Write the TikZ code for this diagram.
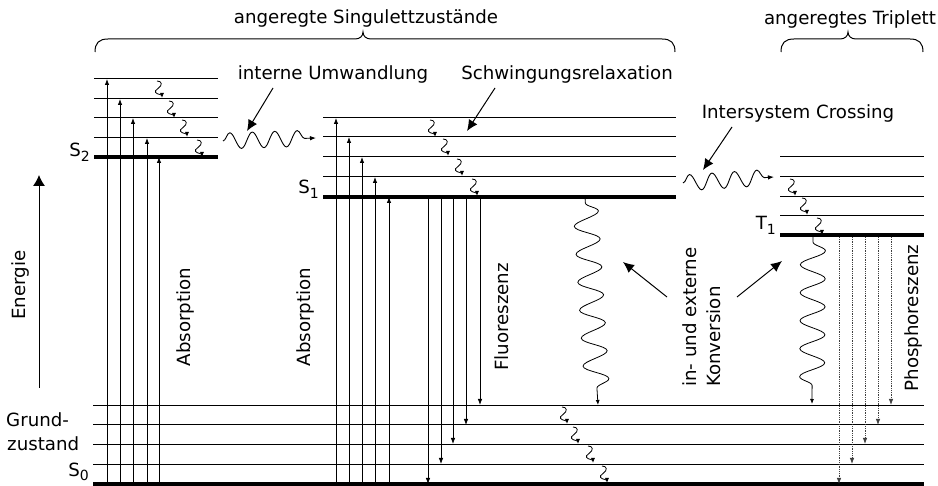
\documentclass[tikz,border=0pt]{standalone}
\usepackage{fontspec}
\setmainfont{DejaVu Sans}
\usetikzlibrary{arrows.meta,decorations.pathmorphing}
\newcommand{\lvsub}[2]{#1\raisebox{-0.5ex}{\fontsize{14}{14}\selectfont #2}}
\begin{document}
\begin{tikzpicture}[x=1pt,y=-1pt,
  lvl/.style={line width=1pt},
  ground/.style={line width=4pt},
  trans/.style={line width=0.8pt,-{Latex[length=6pt,width=4.5pt]}},
  phos/.style={line width=0.8pt,densely dotted,draw=black!75,-{Latex[length=6pt,width=4.5pt]}},
  sq/.pic={\draw[line width=0.8pt,-{Latex[length=5pt,width=4pt]}]
     (0,0) .. controls (5,0) and (6,4) .. (1,7.5)
     .. controls (-4,10.5) and (-1,13) .. (3,13.5)
     .. controls (5,14) and (5,15.5) .. (5,17);},
  bigwave/.style={line width=0.8pt,decorate,decoration={snake,amplitude=12.5pt,segment length=28pt,pre length=6pt,post length=6pt},-{Latex[length=5pt,width=4pt]}},
  hwave/.style={line width=0.9pt,decorate,decoration={snake,amplitude=8pt,segment length=22.5pt,post length=4pt},-{Latex[length=6pt,width=4.5pt]}},
  pointer/.style={line width=1pt,-{Latex[length=11pt,width=10pt]}},
  lab/.style={font=\fontsize{18.2}{22}\selectfont,inner sep=0pt},
  rot/.style={lab,rotate=90}
]
\useasboundingbox (0,0) rectangle (938,486);

% braces
\draw[line width=1pt] (95,52) .. controls (95,43) and (99,39) .. (108,39) -- (355,39)
  .. controls (360,39) and (363,36) .. (363,32) .. controls (363,36) and (366,39) .. (371,39)
  -- (662,39) .. controls (671,39) and (675,43) .. (675,52);
\draw[line width=1pt] (781,52) .. controls (781,43) and (785,39) .. (794,39) -- (840,39)
  .. controls (845,39) and (848,36) .. (848,32) .. controls (848,36) and (851,39) .. (856,39)
  -- (910,39) .. controls (919,39) and (923,43) .. (923,52);

% titles
\node[lab] (tsing) at (366,18) {angeregte Singulettzustände};
\node[lab] (ttrip) at (850,19) {angeregtes Triplett};

% S0 levels
\foreach \y in {406,425,445,465} \draw[lvl] (93,\y) -- (924,\y);
\draw[ground] (93,484) -- (924,484);
% S2 levels
\foreach \y in {79,99,118,138} \draw[lvl] (94,\y) -- (218,\y);
\draw[ground] (94,157) -- (218,157);
% S1 levels
\foreach \y in {118,137,157,177} \draw[lvl] (323,\y) -- (676,\y);
\draw[ground] (323,197) -- (676,197);
% T1 levels
\foreach \y in {157,177,197,216} \draw[lvl] (780,\y) -- (924,\y);
\draw[ground] (780,235) -- (924,235);

% level labels
\node[lab,anchor=base east] (s2) at (90,157) {\lvsub{S}{2}};
\node[lab,anchor=base east] (s1) at (319,194) {\lvsub{S}{1}};
\node[lab,anchor=base east] (t1) at (776,230) {\lvsub{T}{1}};
\node[lab,anchor=base east] (s0) at (89,476) {\lvsub{S}{0}};
\node[lab,anchor=base west] (g1) at (6,427) {Grund-};
\node[lab,anchor=base west] (g2) at (7,450) {zustand};

% energy axis
\node[rot] (energie) at (20,285) {Energie};
\coordinate (e0) at (39,388);
\coordinate (e1) at (39,175);
\draw[line width=1pt,-{Latex[length=11pt,width=12pt]}] (e0) -- (e1);

% absorption S0 -> S2
\foreach \x/\t in {107/79,120/99,133/118,147/138,159/157}
  \draw[trans] (\x,484) -- (\x,\t);
% absorption S0 -> S1
\foreach \x/\t in {336/118,349/137,362/157,375/177,389/197}
  \draw[trans] (\x,484) -- (\x,\t);
% fluorescence S1 -> S0
\foreach \x/\t in {428/484,441/464,453/444,466/425,480/405}
  \draw[trans] (\x,197) -- (\x,\t);
% phosphorescence T1 -> S0
\foreach \x/\t in {839/484,852/464,865/444,878/425,891/405}
  \draw[phos] (\x,237) -- (\x,\t);

% vibrational relaxation squiggles (top point)
\foreach \a/\b in {157/81,169/101,182/120,197/140,
  430/120,443/139,457/159,472/179,
  790/179,802/198,817/218,
  562/407,573/427,588/446,602/466}
  \pic at (\a,\b) {sq};

% internal conversion / ISC waves
\draw[hwave] (223,141) -- (316,138);
\draw[hwave] (683,183) -- (774,177);
\draw[bigwave] (585,197) -- (598,405);
\draw[bigwave] (813,236) -- (812,404);

% rotated labels
\node[rot] (abs1) at (185,317) {Absorption};
\node[rot] (abs2) at (305,317) {Absorption};
\node[rot] (fluo) at (502,317) {Fluoreszenz};
\node[rot] (phosl) at (913,318) {Phosphoreszenz};
\node[rot,anchor=base west] (konv1) at (696,387) {in- und externe};
\node[rot,anchor=base west] (konv2) at (720,387) {Konversion};

% annotation labels and pointers
\node[lab] (iu) at (333,74) {interne Umwandlung};
\node[lab] (sr) at (567,74) {Schwingungsrelaxation};
\node[lab] (isc) at (798,113) {Intersystem Crossing};
\coordinate (iu0) at (273,88);   \coordinate (iu1) at (247,131);
\coordinate (sr0) at (495,88);   \coordinate (sr1) at (467,131);
\coordinate (is0) at (732,127);  \coordinate (is1) at (703,170);
\coordinate (k10) at (667,297);  \coordinate (k11) at (623,262);
\coordinate (k20) at (737,297);  \coordinate (k21) at (782,261);
\draw[pointer] (iu0) -- (iu1);
\draw[pointer] (sr0) -- (sr1);
\draw[pointer] (is0) -- (is1);
\draw[pointer] (k10) -- (k11);
\draw[pointer] (k20) -- (k21);
\end{tikzpicture}
\end{document}
